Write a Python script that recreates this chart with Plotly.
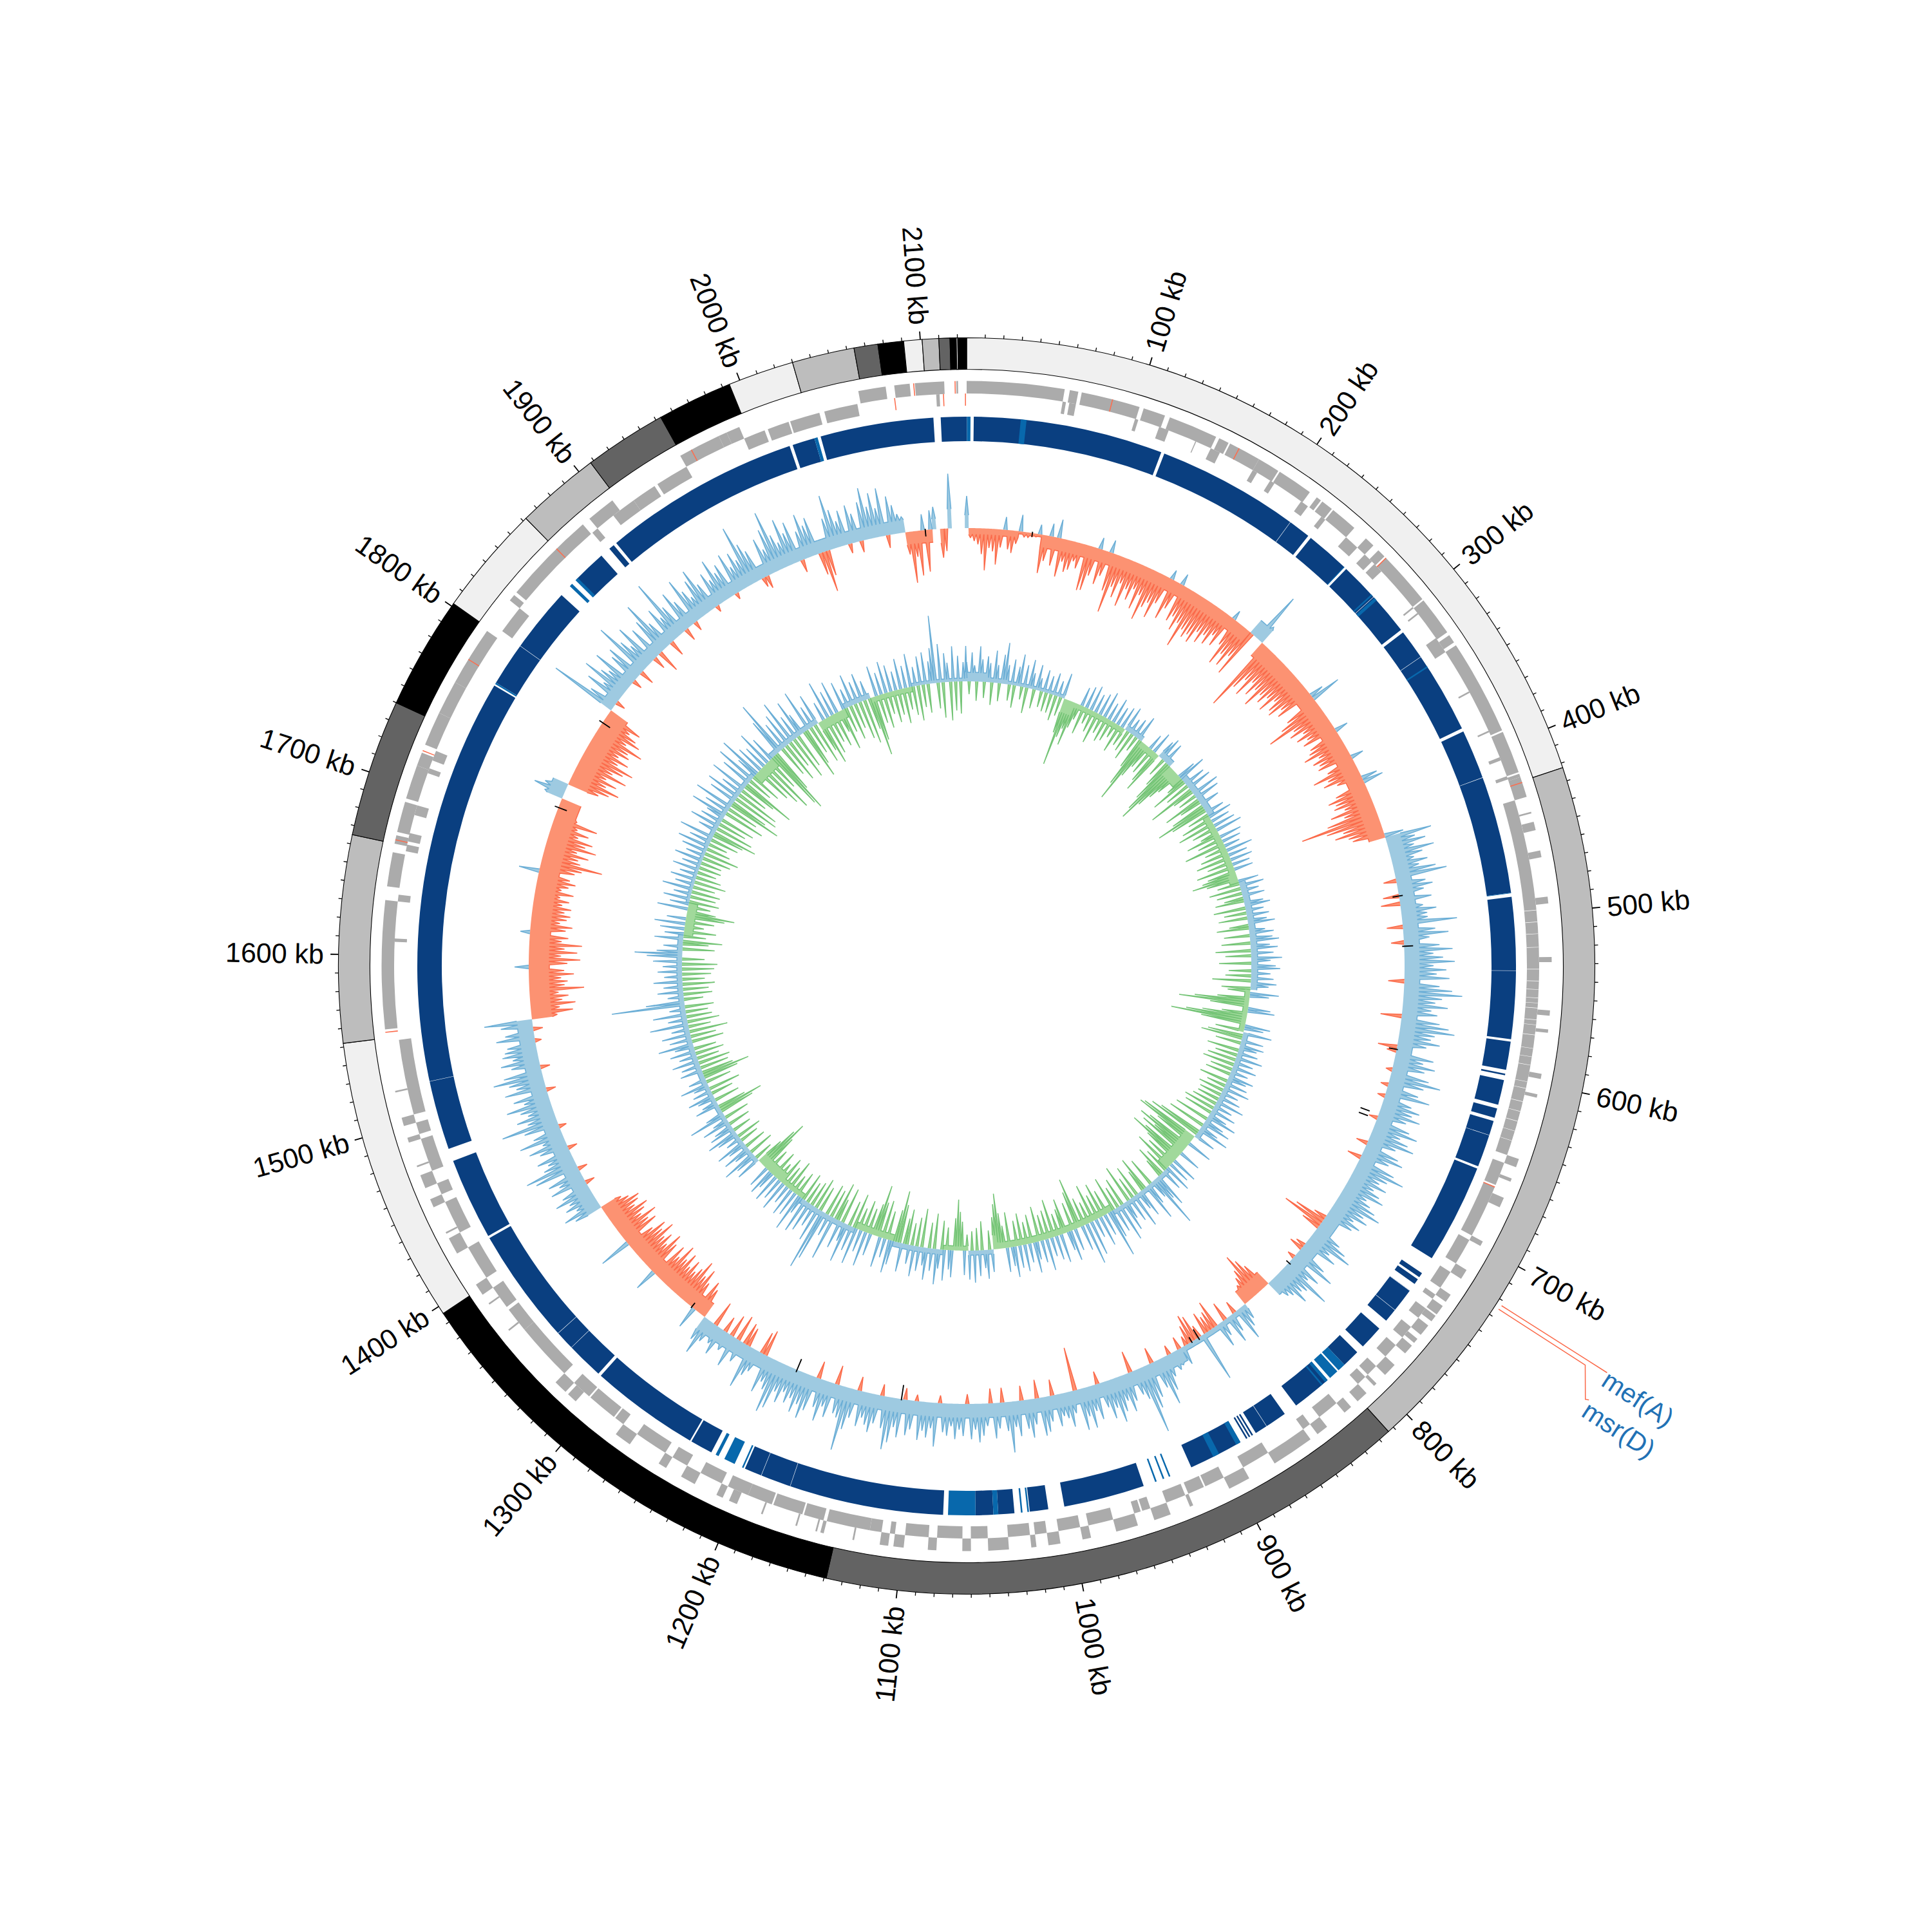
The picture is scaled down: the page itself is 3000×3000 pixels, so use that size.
import math
import plotly.graph_objects as go

GENOME_KB = 2125
STEP_KB = 3

contig_starts = [0, 422.6, 813.5, 1138.8, 1395.6, 1552, 1665, 1740, 1801.7, 1862, 1908, 1953, 1994, 2030, 2064, 2077, 2091, 2101, 2110, 2116, 2119.4, 2120.2]
contig_ends = contig_starts[1:] + [GENOME_KB]
contig_colors = ["#f0f0f0", "#bdbdbd", "#636363", "#000000", "#f0f0f0", "#bdbdbd", "#636363", "#000000", "#f0f0f0", "#bdbdbd", "#636363", "#000000", "#f0f0f0", "#bdbdbd", "#636363", "#000000", "#f0f0f0", "#bdbdbd", "#636363", "#000000", "#f0f0f0", "#000000"]

tick_label_kb = [100, 200, 300, 400, 500, 600, 700, 800, 900, 1000, 1100, 1200, 1300, 1400, 1500, 1600, 1700, 1800, 1900, 2000, 2100]

genes_plus = [(0,57),(60,65),(67,101.5),(104,117),(120,149),(151,157),(158,177),(177,190),(191,212),(217,220),(221,228),(229,245),(254,260),(264,269),(270,302),(303,326),(328,333),(335,391),(392,417),(418,420),(420,432),(441,442),(447,452),(464,468),(491,495),(526,529),(557,560),(568,570),(594,597),(606,608),(645,650),(657,659),(669,675),(697,700),(716,722),(733,738),(741,747),(748,752),(755,762),(765,768),(770,776),(785,793),(800,802),(808,815),(820,825),(838,845),(850,875),(892,905),(928,930),(942,952),(962,975),(990,995),(1008,1015),(1022,1025),(1038,1050),(1060,1065),(1080,1085),(1099,1105),(1108,1113),(1128,1129),(1146,1148),(1150,1151),(1162,1163),(1183,1184),(1199,1204),(1208,1212),(1226,1235),(1245,1250),(1270,1280),(1310,1316),(1318,1326),(1366,1367),(1385,1386),(1392,1399),(1420,1430),(1433,1434),(1450,1455),(1462,1470),(1475,1476),(1490,1493),(1500,1505),(1520,1521),(1557,1632),(1640,1660),(1665,1670),(1672,1690),(1692,1712),(1712,1720),(1725,1745),(1745,1765),(1765,1800),(1822,1826),(1828,1883),(1888,1905),(1952,1977),(1977,1982),(1982,1990),(2062,2078),(2083,2092),(2095,2112),(2119,2120)]
genes_minus = [(57,59),(61,65),(101,103),(116,122),(139,139.6),(149,155),(177,180),(189,192),(211,216),(226,229),(245,254),(260,266),(268,274),(302,303),(306.5,307.5),(325,335),(362,363),(388,389),(405,407),(417,419),(432,645),(650,664),(665,697),(700,716),(722,733),(738,741),(748,755),(762,770),(776,785),(793,800),(802,808),(825,838),(845,850),(875,892),(905,917),(918,928),(930,942),(952,957),(958,962),(975,990),(995,1008),(1015,1022),(1025,1038),(1050,1060),(1065,1080),(1085,1099),(1105,1108),(1113,1120),(1120,1146),(1148,1160),(1161,1179),(1180,1195),(1195,1208),(1212,1226),(1235,1245),(1250,1270),(1280,1286),(1287,1305),(1306,1318),(1326,1361),(1361,1376),(1378,1392),(1399,1420),(1430,1450),(1455,1462),(1470,1490),(1493,1500),(1505,1550),(1608,1610),(1632,1636),(1662,1666),(1668,1673),(1684,1690),(1710,1713),(1718,1724),(1805,1822),(1884,1888),(1900,1915),(1915,1930),(1932,1952),(1990,2003),(2005,2018),(2019,2037),(2040,2060),(2107,2109)]
minus_breaks = [498, 505, 512, 520, 533, 540, 545, 550, 553, 556, 563, 566, 572, 580, 585, 590, 600, 604, 612, 618, 624, 630, 636]
red_plus = [85, 163.6, 270, 423, 1555, 1667, 1721, 1780, 1862, 1959, 2094, 2118]
red_minus = [665, 2082, 2111, 2124]

hits_dark = [(4.4,122.5),(124.5,227),(229,256.5),(258,308.5),(310.5,380),(382,486),(488.5,576.5),(578,595.6),(598,599),(602,617.6),(620,626),(628,657.5),(659,721),(732,735),(736.5,740),(745,768.6),(775,790),(795,806),(820,845),(853.6,875),(877,878),(879,880),(881,882),(886,920),(951.5,1002),(1012,1023.5),(1033,1043),(1046,1057),(1077,1203),(1226,1240),(1241,1309),(1311,1418.5),(1420,1471),(1479,1775),(1777,1844.5),(1858,1879),(1885.5,1889),(1891,2014),(2016,2030),(2034,2104.5),(2109,2125),(0,0.2)]
hits_light = [(0.2,2.4),(33.4,37),(256,256.5),(280,281),(283,285),(336,337),(486,486.3),(806,811),(812,818),(820,822),(824,825),(886,889),(901,905),(934,935),(938,939),(943,944),(1024,1025),(1028,1029),(1043,1046),(1057,1074),(1204,1205),(1210,1217),(1221,1223),(1776,1777),(1852,1854),(1857,1859),(2030,2032)]
hits_hairlines = [213, 282, 329, 412.7, 534, 637, 745, 760, 867, 1173, 1192, 1334, 1346, 1522, 1804]

skew_values = [
50,-15,-20,-25,-40,-65,-30,-35,-55,-28,20,-30,-35,-20,26,-8,-8,-6,-5,15,-60,-40,20,-45,29,-60,-35,-50,-45,-30,-40,-20,-72,
-70,-45,18,-55,-40,20,-60,-93,-50,-65,-40,-75,-45,-60,-40,-70,-45,-83,-60,-50,-72,-45,15,-65,-45,18,-60,-50,-70,-55,-92,-60,-70,
-62,-72,-50,-65,-48,-60,-40,-55,15,-45,-76,-55,-72,-50,-79,15,83,30,-10,-120,-80,-60,-85,-55,-75,-60,-86,-60,-70,-55,-75,-50,-65,
-70,-50,-60,22,48,-55,-70,-96,-55,-65,-45,-60,-45,-55,21,-50,-55,-67,-45,-58,-50,-55,20,-45,-72,-50,-60,-40,25,32,-50,-65,-55,
-60,-45,-70,-50,-80,-124,-85,-60,-75,-55,-50,30,73,45,60,40,70,50,35,55,40,65,81,-20,45,55,40,-25,50,-30,35,55,40,
40,85,-25,50,70,40,-20,55,75,45,60,78,45,65,50,70,-25,55,75,91,60,50,70,45,55,-33,60,75,85,55,50,65,45,
-30,-15,60,45,65,50,-10,60,80,55,-12,50,70,-12,45,60,50,65,45,-14,55,70,45,60,72,45,-18,55,65,45,-22,60,79,
55,45,60,42,55,65,40,50,62,74,50,60,40,55,45,-20,-50,-67,-30,45,60,73,40,55,-15,-22,50,70,-12,55,40,82,50,
45,60,40,35,25,-25,-45,-60,-73,-50,-40,-30,-10,25,35,53,-20,30,45,-30,25,40,-44,-30,-25,-35,79,-20,-40,-45,-30,-15,30,
-20,25,30,-15,35,55,75,45,-25,55,70,107,50,40,-34,45,60,40,55,70,45,60,40,-20,55,40,65,45,65,-68,35,55,40,
35,50,-25,40,55,60,-29,40,60,45,-23,55,40,79,45,-23,40,55,-23,35,50,60,40,55,-15,50,40,55,35,50,45,-12,68,
40,55,45,60,-10,45,55,-18,60,45,70,82,50,-18,45,60,50,40,55,-22,45,65,100,50,45,-30,55,40,65,45,-27,55,70,
50,65,45,55,40,60,45,75,84,50,40,60,-41,-35,35,45,68,-30,-35,35,-41,50,-35,30,-25,45,30,-40,35,60,40,-25,-45,
-55,35,-45,-65,-50,-72,-55,-45,-60,-45,-64,-50,-70,-45,-60,35,-55,-68,-45,-60,-50,-72,-55,-65,-45,50,-60,-50,-68,-45,-55,-64,-45,
-55,-60,-45,-35,45,60,35,50,40,60,45,-15,57,40,55,-15,70,83,50,40,55,-15,45,60,35,70,45,-12,55,89,45,60,40,
50,70,40,55,-15,65,45,55,78,60,-15,45,60,40,55,50,45,-10,60,45,-15,50,75,-40,-65,-45,-70,-50,-60,-45,-85,-55,-60,
-50,-70,-55,22,-60,-80,-50,-75,-55,-82,-50,-60,15,-55,-65,-45,-55,-60,-50,-60,-45,-55,-40,-60,-40,-50,-60,-50,32,-55,-65,-96,-60,
-55,-70,-50,-79,-60,-70,-45,-60,-40,-70,-35,-20,-15,-15,-20,30,50,35,25,-50,-65,-79,-55,-70,-50,-81,-55,-70,-84,-55,-70,-50,-65,
-60,-81,-50,-70,-60,-45,-60,-30,108,45,-15,60,35,75,50,40,70,-15,50,60,-23,91,55,40,70,-20,55,-36,60,86,45,-25,60,
40,99,50,-20,65,45,-15,74,50,35,60,74,45,-10,55,40,70,45,55,-10,65,40,60,45,97,65,50,-15,-20,60,40,70,96,
55,40,75,50,65,-20,45,70,50,60,-35,-64,-40,50,85,60,40,55,-15,60,45,-18,60,81,50,70,45,75,-20,60,45,30,25,
-35,-80,-40,-70,25,-65,30,35,0,-45,-35,85,0,0,0,0,
]
# solid band next to the baseline, read per stretch of the genome: start kb, level
skew_band_start = [0, 3, 40, 60, 240, 252, 430, 807, 830, 890, 1280, 1396, 1554, 1728, 1738, 1804, 2077, 2098, 2102, 2105, 2109, 2110, 2114]
skew_band_level = [20, -10, -4, -20, 25, -26, 24, -24, 8, 22, -25, 24, -32, 25, -32, 20, -20, 16, 0, -22, 0, 30, 0]

gc_values = [
30,-20,45,25,-30,55,35,-25,40,30,-35,50,28,-28,45,64,30,-25,40,-35,30,50,-20,35,-40,45,25,-30,40,20,-25,35,-30,
28,-30,35,-40,25,-30,40,-55,-106,-60,-45,-70,-40,-25,30,-45,35,-25,40,-35,30,-50,35,-30,42,-40,28,-35,40,-25,30,-45,35,
-30,40,-35,25,-45,30,-25,40,-50,-80,-106,-60,-40,25,-45,35,-55,-70,30,38,-30,35,-45,-70,-90,-106,-75,-55,-40,30,45,-30,-60,
35,-40,40,-75,-35,45,-30,40,-60,-35,32,-55,-83,-60,30,-35,38,-50,30,-60,35,-40,42,-30,-55,35,-40,30,-65,25,-35,42,-45,
30,-55,35,-40,28,-60,30,-45,-55,-72,-50,32,-35,38,-50,28,-40,35,-30,-45,30,40,-50,28,-35,35,-45,30,42,-30,-50,25,38,
-40,35,45,-45,30,42,-55,35,-40,48,30,-50,38,45,-35,30,-40,35,-60,40,28,-45,-35,45,30,-50,-85,-109,-60,35,42,-40,-70,
-95,-118,-70,40,30,-45,45,-55,-65,35,-40,38,28,-50,32,-35,42,-45,30,-50,38,-35,28,-40,40,30,-45,35,-30,42,-40,28,-35,
35,-35,45,-40,30,-50,40,-45,30,48,-55,32,45,-60,30,50,-70,-85,35,-95,-101,-65,40,-75,-90,-60,-80,35,-70,-91,-60,42,-50,
35,-65,45,-40,35,-50,-30,55,40,84,30,-45,35,60,-55,-35,45,30,-50,55,-35,40,-60,30,48,-45,60,-35,40,-55,45,75,-40,
35,-55,48,-40,30,-60,55,-35,66,-45,40,-80,-60,35,-45,48,30,-55,-40,45,-35,38,-60,30,-45,50,-40,35,-55,28,48,-45,30,
-35,42,-50,35,-40,48,30,-55,38,-35,-55,-86,-70,-50,35,-30,45,28,-45,40,-35,50,-30,45,-25,38,-45,-60,-79,-50,42,30,-35,
48,-45,30,55,-55,35,-40,50,28,-60,38,-45,48,-35,30,-55,-40,45,-60,-81,-50,38,52,-45,30,-60,48,-55,-81,-50,35,-40,55,
-50,35,-35,58,-55,40,-40,62,30,-56,45,-35,-60,70,-45,35,-50,80,98,-40,55,-50,35,-40,48,-35,55,-45,28,60,-40,40,-30,
45,-50,30,-35,48,-45,35,-30,45,-45,28,42,-40,35,-60,-86,-70,-45,40,-30,35,55,-40,28,45,-35,30,48,-30,25,-40,35,50,
-30,40,30,-35,45,25,-40,60,30,-55,-72,-45,38,25,-40,28,42,-35,30,-50,25,45,-40,28,-55,-75,-50,35,-45,30,-50,42,-35,
28,-45,40,-35,30,55,-50,35,-40,45,-60,28,-35,60,-50,30,-40,52,-35,25,-45,114,60,-30,25,-45,40,-40,30,-50,45,-35,28,
-45,38,-50,30,-55,45,-35,55,74,40,-50,30,-40,-61,45,-35,30,-50,38,-30,48,-45,30,-60,-75,-45,48,-35,30,-47,42,-40,28,
-45,48,-35,30,-50,40,-40,28,-30,42,-35,30,-33,45,-45,30,-55,40,-38,50,-30,35,-45,55,-50,-70,30,-60,48,-45,35,-55,30,
58,-65,40,-50,62,-85,-60,45,-75,55,-70,35,-45,60,-55,-85,50,-40,65,-50,35,70,-60,45,-75,38,-90,58,-55,40,-95,-106,-70,
60,89,-50,45,-65,55,-45,71,-70,40,-55,60,35,-80,-60,66,-45,35,-65,50,-50,-73,30,-60,60,-45,40,-55,52,-35,-65,45,-40,
30,-55,50,-40,35,-60,45,-70,30,-50,-93,-70,48,-45,35,-55,50,-35,42,-50,30,-40,48,-55,35,-35,52,-45,30,-55,45,-35,50,
-45,35,55,105,-40,60,-55,45,30,-60,55,-45,40,-50,30,55,
]
gc_band_start = [0, 25, 50, 120, 135, 200, 225, 250, 270, 290, 345, 420, 432, 560, 610, 750, 800, 880, 1025, 1032, 1060, 1090, 1150, 1200, 1270, 1300, 1340, 1450, 1630, 1670, 1740, 1840, 1870, 1940, 1975, 2010, 2060]
gc_band_level = [14, 7, 5, -22, -8, 8, -10, 10, -18, 10, -10, -14, 10, -8, 8, -18, 7, -10, -22, 7, -7, 8, -10, 8, -8, -16, 7, 8, -14, 5, 7, -16, 8, -14, 8, -8, 5]

black_kb = [51, 477, 516, 596, 648, 652, 783, 874, 880, 1113, 1197, 1292, 1719, 1793, 2093]
black_lo = [-6, -10, -3, -12, -30, -30, -5, -15, -8, -22, -18, -8, -14, -14, -10]
black_hi = [2, 6, 14, 2, -15, -15, 4, 4, 2, 2, 4, 2, 6, 6, 2]

mef_kb = [722.6, 722.6, 722.6]
mef_r = [984, 1141, 1178]
msr_kb = [725, 725, 737.9, 737.2]
msr_r = [983, 1143, 1173, 1178]

BLUE_LINE, BLUE_FILL = "#6baed6", "#9ecae1"
RED_LINE, RED_FILL = "#fb6a4a", "#fc9272"
GREEN_LINE, GREEN_FILL = "#74c476", "#a1d99b"
SIZE = 3000
PAGE_OFFSET = 8          # the page body margin
CX, CY = 1501 - PAGE_OFFSET, 1500 - PAGE_OFFSET
SPIKE_HALF_KB = 1.4


def deg(kb):
    return kb * 360.0 / GENOME_KB


def band_at(kb, starts, levels):
    level = levels[0]
    for s, l in zip(starts, levels):
        if kb >= s:
            level = l
    return level


fig = go.Figure()


def bars(pairs, base, height, color):
    fig.add_trace(go.Barpolar(
        theta=[deg((a + b) / 2) for a, b in pairs],
        width=[deg(b - a) for a, b in pairs],
        r=[height] * len(pairs), base=[base] * len(pairs),
        marker=dict(color=color, line=dict(color=color, width=0)),
        hoverinfo="skip", showlegend=False))


def area(values, starts, levels, base, sign, fill, line):
    cr, ct, lr, lt = [], [], [], []
    for i, v in enumerate(values):
        k = i * STEP_KB
        low = max(band_at(k, starts, levels) * sign, 0)
        top = max(v * sign, low)
        for kk, a in ((k - SPIKE_HALF_KB, low), (k, top), (k + SPIKE_HALF_KB, low)):
            cr.append(base + a * sign)
            ct.append(deg(kk))
            if top > 0:
                lr.append(base + a * sign)
                lt.append(deg(kk))
        if top == 0 or low == 0:
            lr.append(None)
            lt.append(deg(k))
    fig.add_trace(go.Scatterpolar(r=cr + [base] * len(ct), theta=ct + ct[::-1], mode="lines", fill="toself",
                                  fillcolor=fill, line=dict(width=0, color=fill), hoverinfo="skip", showlegend=False))
    fig.add_trace(go.Scatterpolar(r=lr, theta=lt, mode="lines", line=dict(width=1.5, color=line),
                                  hoverinfo="skip", showlegend=False))


# contig ring
fig.add_trace(go.Barpolar(
    theta=[deg((a + b) / 2) for a, b in zip(contig_starts, contig_ends)],
    width=[deg(b - a) for a, b in zip(contig_starts, contig_ends)],
    r=[49] * len(contig_starts), base=[926.5] * len(contig_starts),
    marker=dict(color=contig_colors, line=dict(color="#000000", width=1.1)),
    hoverinfo="skip", showlegend=False))

# ticks
minor_r, minor_t, major_r, major_t = [], [], [], []
for k in range(10, GENOME_KB, 10):
    if k % 100 == 0:
        major_r += [975.5, 988, None]
        major_t += [deg(k), deg(k), None]
    else:
        minor_r += [975.5, 981, None]
        minor_t += [deg(k), deg(k), None]
fig.add_trace(go.Scatterpolar(r=minor_r, theta=minor_t, mode="lines", line=dict(color="#000", width=1.3), hoverinfo="skip", showlegend=False))
fig.add_trace(go.Scatterpolar(r=major_r, theta=major_t, mode="lines", line=dict(color="#000", width=1.8), hoverinfo="skip", showlegend=False))

# genes
GREY = "#ababab"
bars(genes_plus, 889, 19.5, GREY)
bars(genes_minus, 870, 19, GREY)
bars([(k, k + 0.25) for k in minus_breaks], 870, 19, "#ffffff")
bars([(k, k + 0.6) for k in red_plus], 889, 19.5, "#fc6e4f")
bars([(k, k + 0.6) for k in red_minus], 870, 19, "#fc6e4f")

# resistance hit ring
bars(hits_dark, 815, 38, "#0a3f80")
bars(hits_light, 815, 38, "#0868ac")
bars([(k, k + 0.25) for k in hits_hairlines], 815, 38, "#ffffff")

# tracks
area(skew_values, skew_band_start, skew_band_level, 680, 1, BLUE_FILL, BLUE_LINE)
area(skew_values, skew_band_start, skew_band_level, 680, -1, RED_FILL, RED_LINE)
area(gc_values, gc_band_start, gc_band_level, 442, 1, BLUE_FILL, BLUE_LINE)
area(gc_values, gc_band_start, gc_band_level, 442, -1, GREEN_FILL, GREEN_LINE)

br, bt = [], []
for k, lo, hi in zip(black_kb, black_lo, black_hi):
    br += [680 + lo, 680 + hi, None]
    bt += [deg(k), deg(k), None]
fig.add_trace(go.Scatterpolar(r=br, theta=bt, mode="lines", line=dict(color="#000", width=1.8), hoverinfo="skip", showlegend=False))

# gene label leaders
fig.add_trace(go.Scatterpolar(r=mef_r, theta=[deg(k) for k in mef_kb], mode="lines", line=dict(color="#fb6a4a", width=1.5), hoverinfo="skip", showlegend=False))
fig.add_trace(go.Scatterpolar(r=msr_r, theta=[deg(k) for k in msr_kb], mode="lines", line=dict(color="#fb6a4a", width=1.5), hoverinfo="skip", showlegend=False))

annotations = []
FONT = "Liberation Sans"
for k in tick_label_kb:
    th = deg(k)
    txt = f"{k} kb"
    w = 150 if k >= 1000 else 126
    R = 1000 + w / 2
    x = CX + R * math.sin(math.radians(th))
    y = CY - R * math.cos(math.radians(th))
    ang = th - 90 if th < 180 else th - 270
    annotations.append(dict(text=txt, x=x / SIZE, y=1 - y / SIZE, xref="paper", yref="paper", showarrow=False,
                            xanchor="center", yanchor="middle", textangle=ang,
                            font=dict(family=FONT, size=43, color="#000000")))
for txt, x, y in [("mef(A)", 2543 - PAGE_OFFSET, 2172 - PAGE_OFFSET), ("msr(D)", 2513 - PAGE_OFFSET, 2220 - PAGE_OFFSET)]:
    annotations.append(dict(text=txt, x=x / SIZE, y=1 - y / SIZE, xref="paper", yref="paper", showarrow=False,
                            xanchor="center", yanchor="middle", textangle=33,
                            font=dict(family=FONT, size=41, color="#2171b5")))

fig.update_layout(
    width=SIZE, height=SIZE, autosize=False,
    margin=dict(l=0, r=0, t=0, b=0), paper_bgcolor="#ffffff", plot_bgcolor="#ffffff",
    showlegend=False, annotations=annotations,
    polar=dict(
        domain=dict(x=[0, 2 * CX / SIZE], y=[1 - 2 * CY / SIZE, 1]), bgcolor="#ffffff", barmode="overlay", bargap=0,
        radialaxis=dict(range=[0, CY], visible=False),
        angularaxis=dict(direction="clockwise", rotation=90, visible=False, thetaunit="degrees"),
    ),
)
fig.write_html("out.html")
